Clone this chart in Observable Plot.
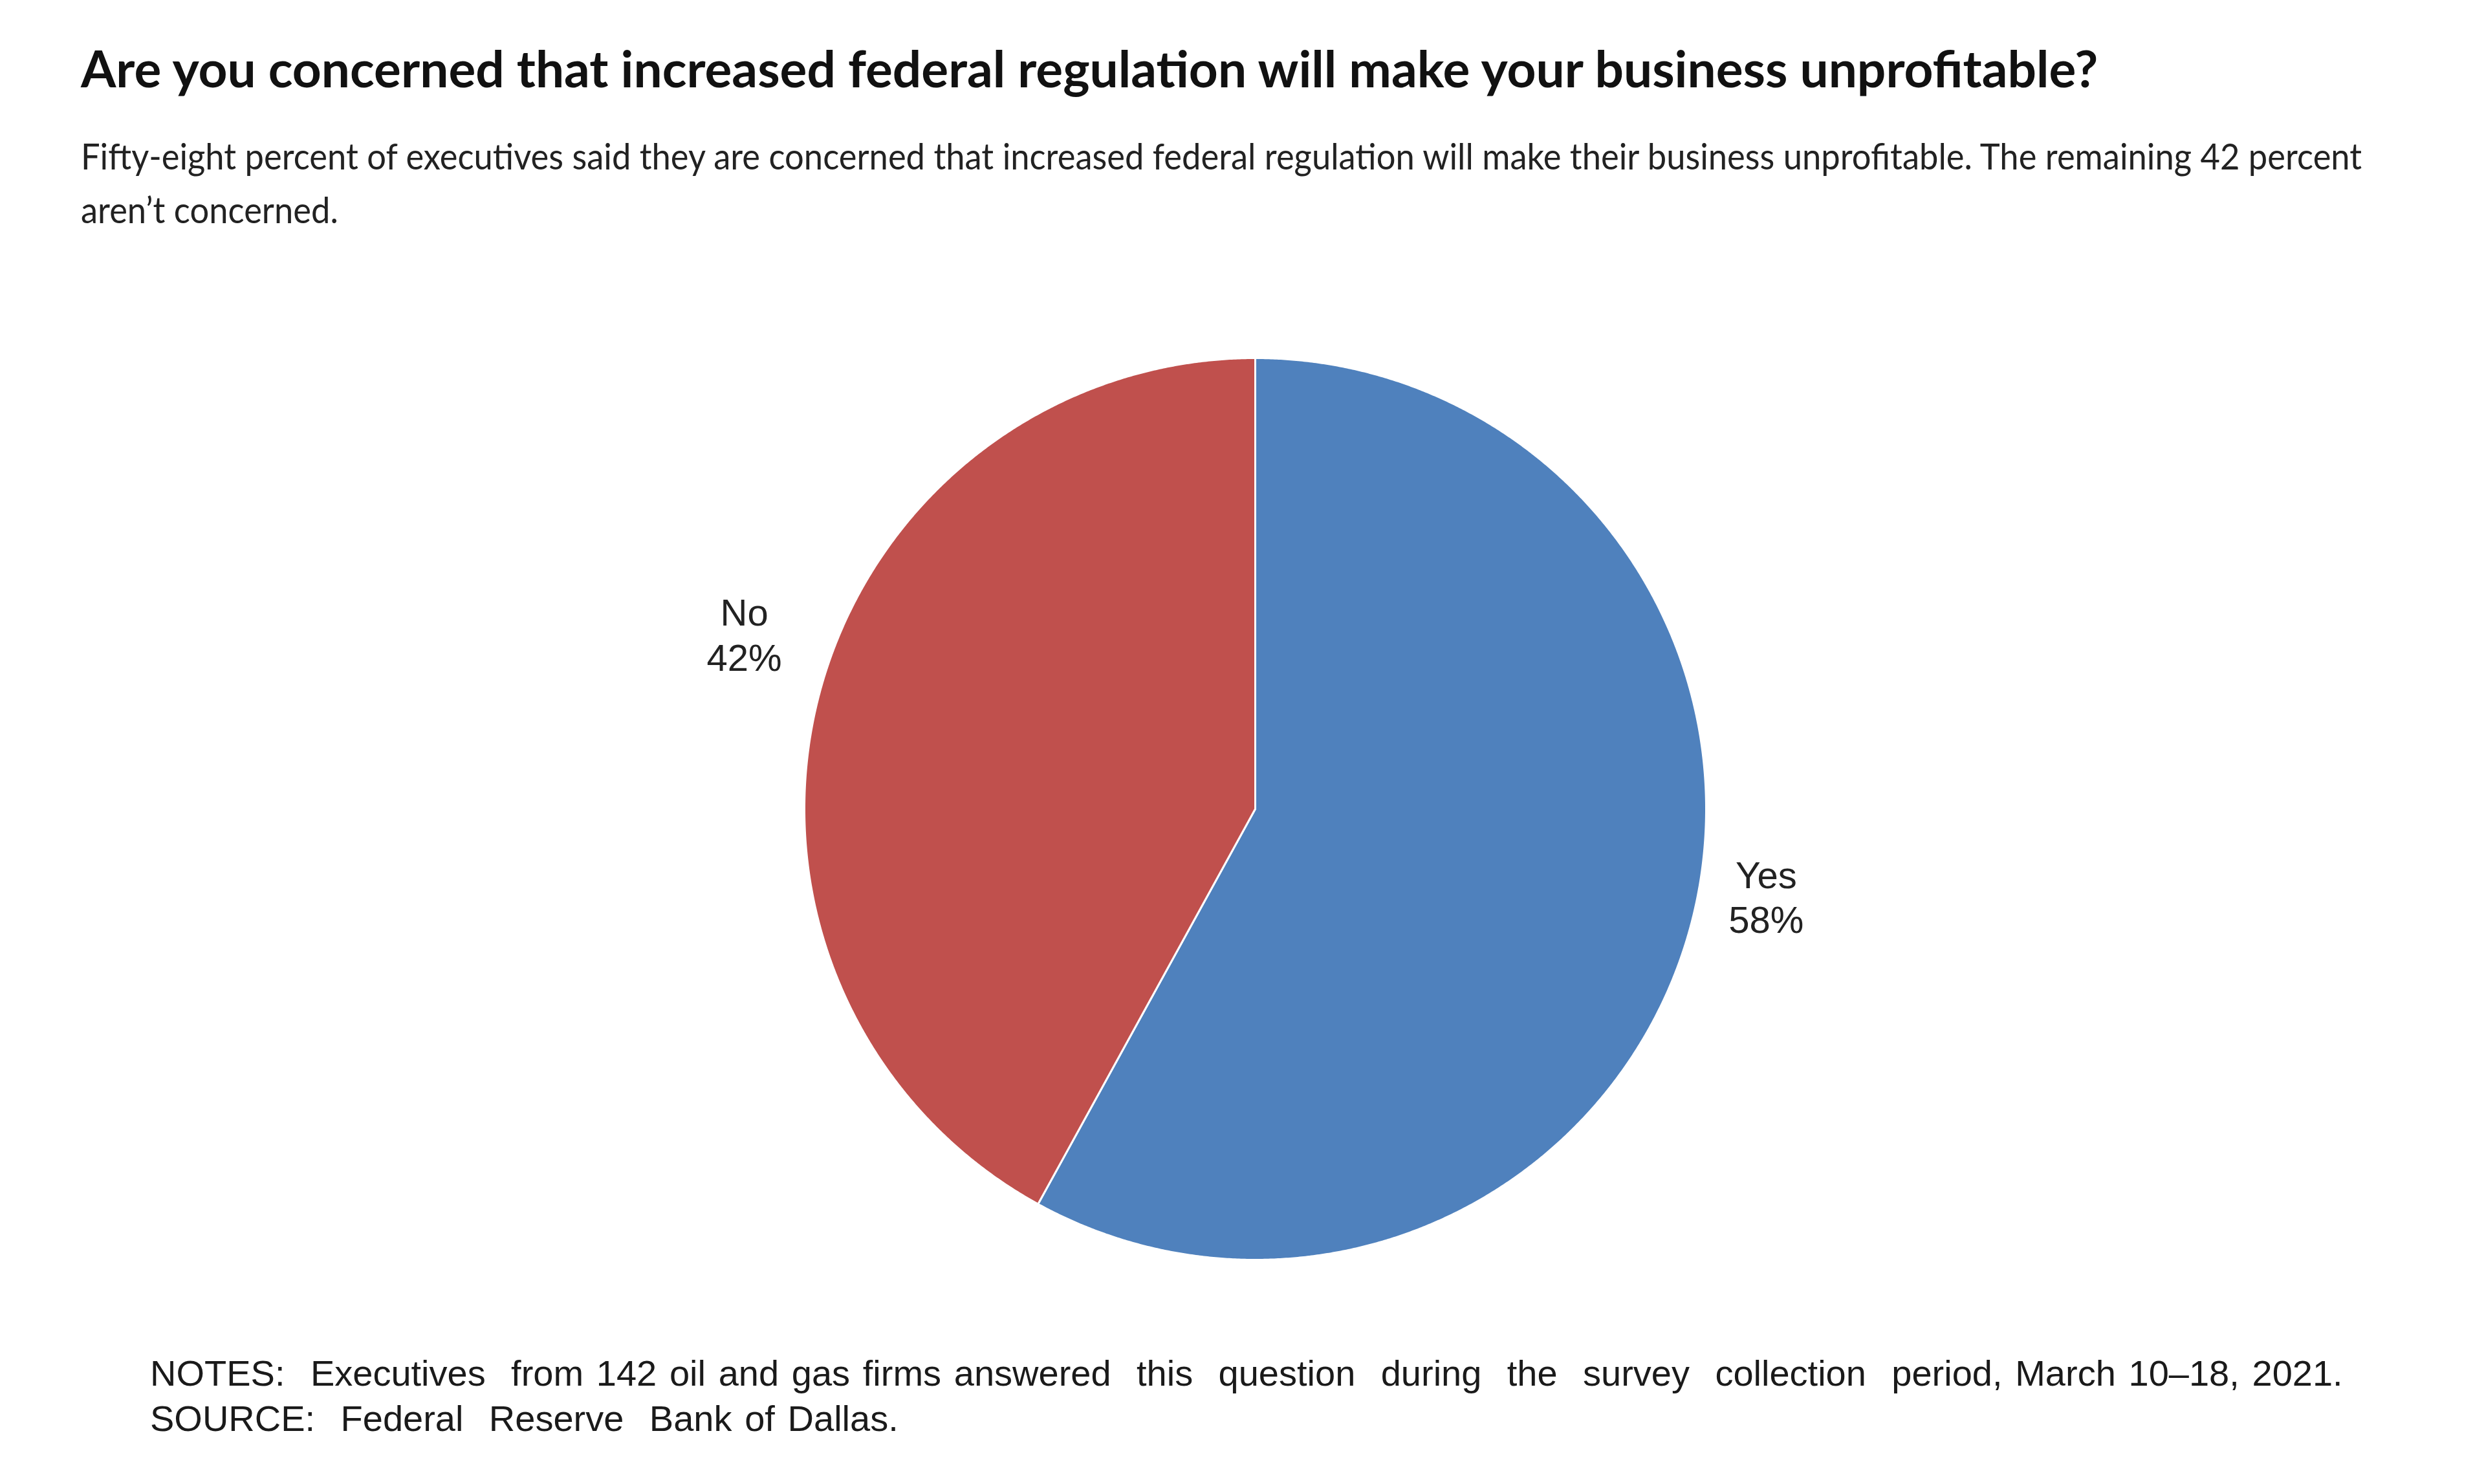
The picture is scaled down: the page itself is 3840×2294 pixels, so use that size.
<!DOCTYPE html>
<html>
<head>
<meta charset="utf-8">
<script src="https://cdn.jsdelivr.net/npm/d3@7"></script>
<script src="https://cdn.jsdelivr.net/npm/@observablehq/plot@0.6"></script>
<style>
html, body { margin: 0; padding: 0; background: #fff; width: 3840px; height: 2294px; overflow: hidden; position: relative; }
.t { position: absolute; white-space: pre; transform-origin: 0 0; line-height: 1; }
#title { font-family: Lato, "Open Sans", sans-serif; font-weight: 700; font-size: 79px; color: #111; }
.sub { font-family: Lato, "Open Sans", sans-serif; font-weight: 400; font-size: 56px; color: #222; }
.note { font-family: "Liberation Sans", Arial, sans-serif; font-size: 56px; color: #1a1a1a; }
#chart { position: absolute; left: 0; top: 450px; }
</style>
</head>
<body>
<div id="title" class="t">Are you concerned that increased federal regulation will make your business unprofitable?</div>
<div id="sub1" class="t sub">Fifty-eight percent of executives said they are concerned that increased federal regulation will make their business unprofitable. The remaining 42 percent</div>
<div id="sub2" class="t sub">aren’t concerned.</div>
<div id="chart"></div>
<div id="note1" class="t note">NOTES:  Executives  from 142 oil and gas firms answered  this  question  during  the  survey  collection  period, March 10–18, 2021.</div>
<div id="note2" class="t note">SOURCE:  Federal  Reserve  Bank of Dallas.</div>
<script>
// ---- data ----
const categories = ["Yes", "No"];
const shares = [58, 42];
const valueLabels = ["58%", "42%"];
const sliceColors = ["#4F81BD", "#C0504D"];

// ---- layout ----
const W = 3840, H = 1600, R = 697, CX = 1940, CY = 800;

const total = d3.sum(shares);
let acc = 0;
const slices = categories.map((c, i) => {
  const a0 = acc / total * 2 * Math.PI;
  acc += shares[i];
  const a1 = acc / total * 2 * Math.PI;
  return {c, a0, a1, label: c + "\n" + valueLabels[i]};
});

const pts = [];
for (const s of slices) {
  pts.push({c: s.c, x: 0, y: 0});
  const n = Math.max(2, Math.ceil((s.a1 - s.a0) / (Math.PI / 720)));
  for (let k = 0; k <= n; k++) {
    const a = s.a0 + (s.a1 - s.a0) * k / n;
    pts.push({c: s.c, x: Math.sin(a), y: Math.cos(a)});
  }
}

const labelData = slices.map(s => {
  const m = (s.a0 + s.a1) / 2;
  return {c: s.c, label: s.label, x: 1.17 * Math.sin(m), y: 1.17 * Math.cos(m)};
});

const chart = Plot.plot({
  width: W,
  height: H,
  margin: 0,
  style: {background: "transparent", fontFamily: "Liberation Sans, Arial, sans-serif"},
  x: {domain: [-CX / R, (W - CX) / R], axis: null},
  y: {domain: [-(H - CY) / R, CY / R], axis: null},
  color: {domain: categories, range: sliceColors},
  marks: [
    Plot.line(pts, {x: "x", y: "y", z: "c", fill: "c", stroke: "white", strokeWidth: 3, strokeLinejoin: "round", curve: "linear-closed"}),
    Plot.text(labelData, {x: "x", y: "y", dy: -68, text: "label", fontSize: 58, lineHeight: 1.2, fill: "#222", fontFamily: "Liberation Sans, Arial, sans-serif"})
  ]
});
document.getElementById("chart").appendChild(chart);

// ---- text placement ----
function baselineOffset(el) {
  const p = document.createElement("span");
  p.style.cssText = "display:inline-block;width:0;height:0;vertical-align:baseline";
  el.appendChild(p);
  const o = p.offsetTop;
  el.removeChild(p);
  return o;
}
function place(id, left, baseline) {
  const el = document.getElementById(id);
  el.style.left = left + "px";
  el.style.top = (baseline - baselineOffset(el)) + "px";
  return el;
}
function layout() {
  const t = place("title", 125, 135);
  t.style.transform = `scaleX(${3118 / t.offsetWidth})`;
  const s1 = place("sub1", 125, 262);
  const k = 3526 / s1.offsetWidth;
  s1.style.transform = `scaleX(${k})`;
  const s2 = place("sub2", 125, 345);
  s2.style.transform = `scaleX(${k})`;
  const n1 = document.getElementById("note1");
  const n2 = document.getElementById("note2");
  n1.style.wordSpacing = "0px";
  n2.style.wordSpacing = "0px";
  place("note1", 232, 2142);
  place("note2", 232, 2212);
  const spaces = (n1.textContent.match(/ /g) || []).length;
  const ws = (3390 - n1.offsetWidth) / spaces;
  n1.style.wordSpacing = ws + "px";
  n2.style.wordSpacing = ws + "px";
}
layout();
if (document.fonts && document.fonts.ready) document.fonts.ready.then(layout);
</script>
</body>
</html>
